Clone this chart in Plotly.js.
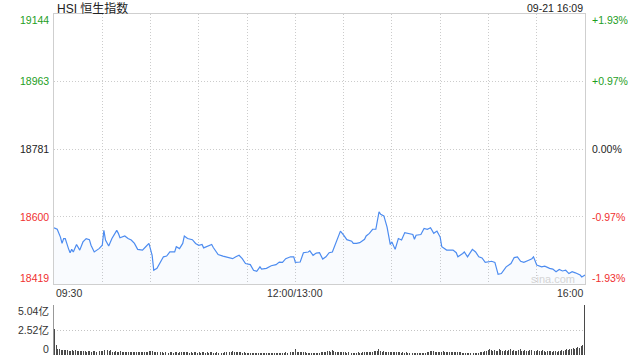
<!DOCTYPE html>
<html>
<head>
<meta charset="utf-8">
<script src="https://cdn.plot.ly/plotly-3.0.1.min.js"></script>
<style>html,body{margin:0;padding:0;background:#fff;}#chart{width:640px;height:360px;}</style>
</head>
<body>
<div id="chart"></div>
<script>
const chartTitle = "HSI 恒生指数";
const dateLabel = "09-21 16:09";
const prevClose = 18781;

// trading minutes since 09:30 (lunch break removed)
const minutes = [0,2,4,5,6,7,9,10,11,12,14,16,18,20,22,23,25,28,30,31,32,34,36,39,40,41,44,46,48,50,52,55,57,59,61,62,64,66,68,70,72,75,76,78,80,81,83,86,88,90,92,93,95,98,99,102,105,108,111,113,115,117,119,122,124,126,128,129,132,135,138,140,142,144,147,149,150,153,155,158,159,161,163,165,167,169,171,173,176,178,180,182,185,186,188,190,193,194,196,198,200,202,203,205,207,209,210,212,214,216,218,221,223,224,225,228,230,232,234,236,238,240,241,244,248,250,251,254,255,257,260,262,264,266,268,272,274,276,278,281,284,286,288,290,292,295,297,298,300,303,305,308,310,312,314,316,318,320,322,324,327,328,330];
const prices = [18570,18566,18545,18528,18541,18541,18514,18503,18512,18505,18525,18510,18532,18541,18538,18523,18505,18514,18523,18563,18537,18521,18541,18563,18555,18543,18548,18541,18537,18528,18512,18510,18519,18528,18496,18456,18461,18478,18492,18494,18505,18505,18519,18514,18528,18548,18541,18538,18528,18523,18525,18516,18519,18525,18517,18498,18494,18490,18487,18492,18496,18487,18474,18471,18456,18453,18465,18459,18461,18468,18471,18478,18477,18487,18492,18492,18477,18478,18503,18505,18508,18496,18502,18503,18486,18492,18503,18505,18537,18561,18550,18538,18534,18528,18528,18530,18539,18548,18555,18566,18566,18613,18606,18602,18572,18525,18532,18512,18541,18537,18557,18555,18552,18539,18550,18552,18568,18566,18570,18555,18561,18545,18519,18510,18510,18503,18492,18501,18505,18492,18512,18505,18492,18489,18477,18480,18477,18445,18447,18465,18474,18490,18492,18480,18477,18483,18487,18492,18470,18465,18467,18461,18459,18452,18458,18454,18456,18447,18452,18449,18443,18438,18443];

// volume per minute, in 亿 (index = minute since 09:30)
const volumes = [
 2.6,1.0,0.65,0.6,0.55,0.5,0.55,0.48,0.5,0.45, 0.45,0.48,0.42,0.46,0.4,0.44,0.38,0.42,0.4,0.36, 0.35,0.4,0.36,0.33,0.36,0.38,0.34,0.36,0.4,0.36,
 0.45,0.5,0.42,0.46,0.4,0.48,0.35,0.32,0.36,0.34, 0.3,0.38,0.33,0.28,0.31,0.33,0.29,0.33,0.31,0.28, 0.32,0.3,0.28,0.32,0.3,0.28,0.32,0.27,0.3,0.36,
 0.42,0.38,0.35,0.3,0.28,0.3,0.26,0.28,0.25,0.27, 0.3,0.25,0.28,0.26,0.24,0.27,0.3,0.25,0.28,0.3, 0.33,0.28,0.26,0.3,0.25,0.27,0.24,0.26,0.28,0.25,
 0.27,0.25,0.3,0.26,0.24,0.28,0.25,0.27,0.3,0.25, 0.23,0.26,0.24,0.22,0.25,0.23,0.26,0.3,0.95,0.35, 0.3,0.4,0.28,0.35,0.3,0.27,0.3,0.25,0.27,0.24,
 0.25,0.22,0.24,0.2,0.22,0.21,0.23,0.2,0.22,0.24, 0.2,0.22,0.21,0.2,0.23,0.22,0.24,0.2,0.22,0.21, 0.24,0.25,0.22,0.24,0.26,0.22,0.25,0.28,0.3,0.35,
 0.65,0.3,0.35,0.28,0.32,0.26,0.28,0.25,0.22,0.24, 0.22,0.2,0.23,0.21,0.22,0.25,0.27,0.3,0.35,0.3, 0.4,0.45,0.35,0.55,0.4,0.35,0.3,0.32,0.28,0.3,
 0.28,0.26,0.25,0.28,0.25,0.24,0.22,0.25,0.23,0.26, 0.22,0.25,0.28,0.3,0.32,0.28,0.3,0.35,0.3,0.38, 0.4,0.45,0.6,0.4,0.35,0.38,0.3,0.35,0.32,0.3,
 0.35,0.3,0.28,0.3,0.26,0.28,0.25,0.27,0.24,0.26, 0.22,0.25,0.23,0.22,0.24,0.2,0.22,0.21,0.2,0.23, 0.22,0.25,0.3,0.35,0.4,0.45,0.38,0.35,0.32,0.3,
 0.3,0.35,0.4,0.3,0.28,0.3,0.35,0.28,0.3,0.26, 0.3,0.35,0.3,0.28,0.25,0.22,0.2,0.22,0.18,0.2, 0.22,0.25,0.2,0.22,0.25,0.3,0.35,0.3,0.4,0.45,
 0.5,0.6,0.55,0.45,0.5,0.4,0.45,0.6,0.5,0.45, 0.4,0.5,0.45,0.55,0.6,0.45,0.5,0.4,0.45,0.55, 0.6,0.4,0.45,0.5,0.45,0.4,0.5,0.55,0.45,0.4,
 0.45,0.5,0.4,0.45,0.55,0.4,0.35,0.4,0.45,0.4, 0.35,0.4,0.38,0.35,0.4,0.45,0.5,0.45,0.55,0.6, 0.55,0.65,0.6,0.7,0.6,0.75,0.8,0.7,0.9,1.0,
 5.0
];
const volMinutes = volumes.map((v, i) => i);

const priceTicks = [19144, 18963, 18781, 18600, 18419];
const pctLabels = ["+1.93%", "+0.97%", "0.00%", "-0.97%", "-1.93%"];
const gridMinutes = [0,30,60,90,120,150,180,210,240,270,300,330];
const timeTickVals = [0, 150, 330];
const timeTickText = ["09:30", "12:00/13:00", "16:00"];
const volTicks = [0, 2.52, 5.04];
const volTickText = ["0", "2.52亿", "5.04亿"];

const FONT = "Liberation Sans, Arial, Noto Sans CJK SC, sans-serif";
const GREEN = "#1e9e1e", RED = "#f03030", DARK = "#222";
function colorFor(v) { return v > prevClose ? GREEN : (v < prevClose ? RED : DARK); }

const traces = [
  {
    x: minutes, y: prices, type: "scatter", mode: "lines",
    line: { color: "#4d8cf0", width: 1.2 },
    fill: "tozeroy", fillcolor: "rgba(90,140,240,0.035)",
    xaxis: "x", yaxis: "y", hoverinfo: "skip"
  },
  {
    x: volMinutes, y: volumes, type: "bar", width: 0.6,
    marker: { color: "#4a4a4a", line: { width: 0 } },
    xaxis: "x2", yaxis: "y2", hoverinfo: "skip"
  }
];

const ann = [];
const yMin = priceTicks[priceTicks.length - 1], yMax = priceTicks[0];
priceTicks.forEach((v, i) => {
  const shift = v === yMax ? -6 : (v === yMin ? 6 : 0);
  ann.push({ xref: "paper", yref: "y", x: 0, y: v, xanchor: "right", yanchor: "middle",
    xshift: -3, yshift: shift, showarrow: false, text: String(v),
    font: { family: FONT, size: 10.5, color: colorFor(v) } });
  ann.push({ xref: "paper", yref: "y", x: 1, y: v, xanchor: "left", yanchor: "middle",
    xshift: 5, yshift: shift, showarrow: false, text: pctLabels[i],
    font: { family: FONT, size: 10.5, color: colorFor(v) } });
});
timeTickVals.forEach((t, i) => {
  const anchor = i === 0 ? "left" : (i === timeTickVals.length - 1 ? "right" : "center");
  ann.push({ xref: "x", yref: "paper", x: t, y: 1 - 293/360, xanchor: anchor, yanchor: "middle",
    showarrow: false, text: timeTickText[i], font: { family: FONT, size: 10.5, color: "#333" } });
});
volTicks.forEach((v, i) => {
  const shift = i === 0 ? 6 : (i === volTicks.length - 1 ? -6 : 0);
  ann.push({ xref: "paper", yref: "y2", x: 0, y: v, xanchor: "right", yanchor: "middle",
    xshift: -3, yshift: shift, showarrow: false, text: volTickText[i],
    font: { family: FONT, size: 10.5, color: "#333" } });
});
ann.push({ xref: "paper", yref: "paper", x: 0, y: 1 - 8/360, xanchor: "left", yanchor: "middle",
  xshift: 1, showarrow: false, text: chartTitle, font: { family: FONT, size: 12, color: DARK } });
ann.push({ xref: "paper", yref: "paper", x: 1, y: 1 - 8/360, xanchor: "right", yanchor: "middle",
  showarrow: false, text: dateLabel, font: { family: FONT, size: 10.5, color: DARK } });
ann.push({ xref: "paper", yref: "paper", x: 1, y: 1 - 279/360, xanchor: "right", yanchor: "middle",
  xshift: -8, showarrow: false, text: "sina.com", font: { family: FONT, size: 11, color: "#d4d4d4" } });

const layout = {
  width: 640, height: 360,
  margin: { l: 54, r: 55, t: 0, b: 0, pad: 0 },
  paper_bgcolor: "#fff", plot_bgcolor: "#fff",
  showlegend: false, bargap: 0,
  xaxis: {
    domain: [0, 1], range: [0, 330], tickvals: gridMinutes, showticklabels: false,
    showgrid: true, gridcolor: "#cccccc", griddash: "1px,2px", gridwidth: 1,
    showline: true, linecolor: "#cfcfcf", mirror: true, zeroline: false, ticks: ""
  },
  yaxis: {
    domain: [1 - 284/360, 1 - 14/360], range: [yMin, yMax], tickvals: priceTicks,
    showticklabels: false, showgrid: true, gridcolor: "#cccccc", griddash: "1px,2px",
    showline: true, linecolor: "#cfcfcf", mirror: true, zeroline: false, ticks: ""
  },
  xaxis2: {
    anchor: "y2", domain: [0, 1], range: [-0.4, 330.4], showticklabels: false, showgrid: false,
    showline: false, zeroline: false, ticks: ""
  },
  yaxis2: {
    anchor: "x2", domain: [1 - 355/360, 1 - 305/360], range: [0, 5.04], tickvals: volTicks,
    showticklabels: false, showgrid: true, gridcolor: "#c4c4c4", griddash: "1px,2px",
    showline: true, linecolor: "#999", zeroline: false, ticks: ""
  },
  annotations: ann
};

Plotly.newPlot("chart", traces, layout, { staticPlot: true, displayModeBar: false });
</script>
</body>
</html>
